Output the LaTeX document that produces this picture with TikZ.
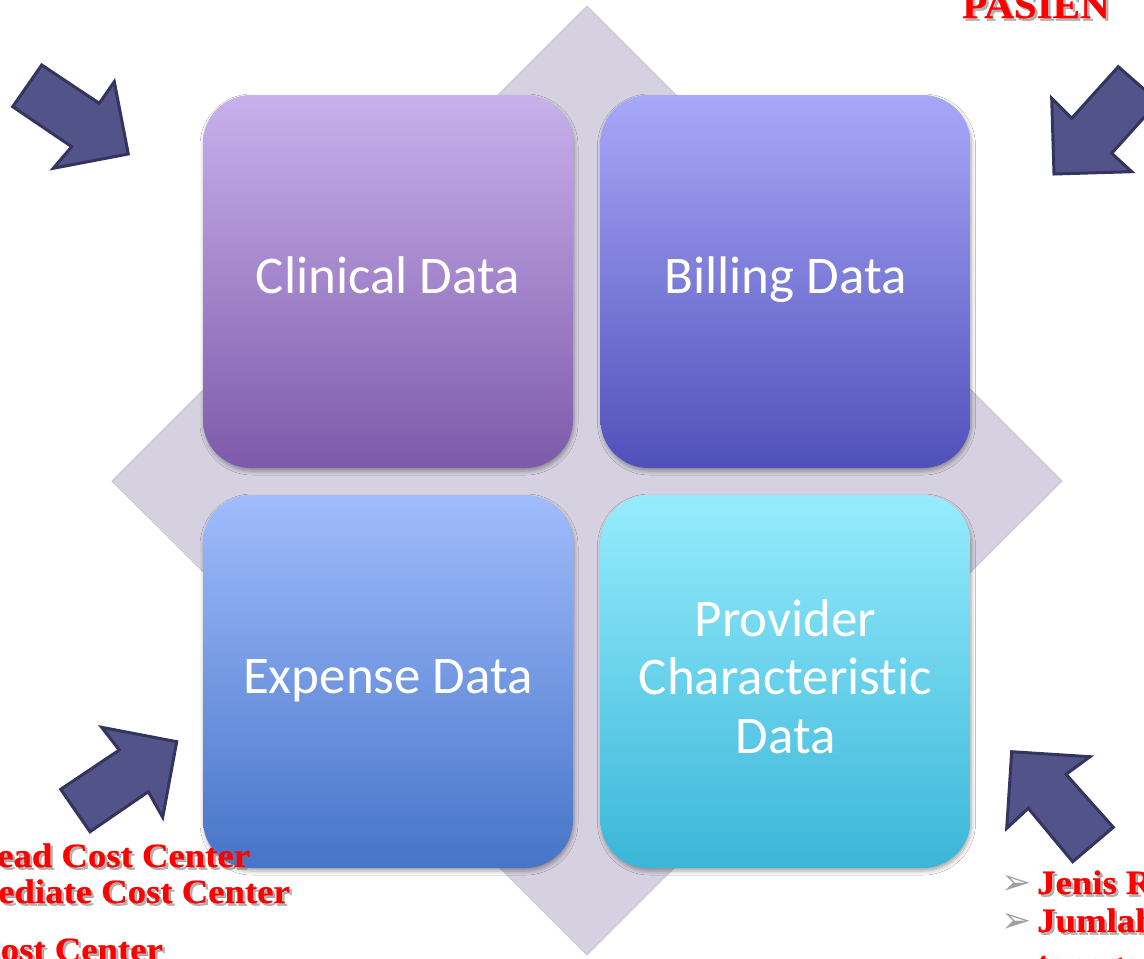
\documentclass[tikz,border=0pt]{standalone}
\usepackage{fontspec}
\setmainfont{Carlito}[Ligatures=NoCommon]
\newfontfamily\redfont[FakeStretch=1.08, FakeBold=0.6]{Liberation Serif Bold}
\newfontfamily\bulletfont{DejaVu Sans}
\usetikzlibrary{shadows.blur}
\definecolor{diamondfill}{RGB}{213,209,224}
\definecolor{diamondline}{RGB}{200,197,214}
\definecolor{arrowfill}{RGB}{82,83,136}
\definecolor{arrowline}{RGB}{52,52,94}
\definecolor{clinTop}{RGB}{200,177,236}
\definecolor{clinBot}{RGB}{126,90,170}
\definecolor{billTop}{RGB}{168,168,249}
\definecolor{billBot}{RGB}{80,80,186}
\definecolor{expTop}{RGB}{160,188,252}
\definecolor{expBot}{RGB}{70,116,200}
\definecolor{provTop}{RGB}{150,236,253}
\definecolor{provBot}{RGB}{58,182,216}
\definecolor{bulletgray}{RGB}{160,160,160}
\tikzset{
  arrowshape/.style={fill=arrowfill, draw=arrowline, line width=3pt, line join=miter},
  databox/.style={rounded corners=48pt, minimum width=370pt, minimum height=373pt,
    inner sep=0pt, text=white, font=\fontsize{53}{58.5}\selectfont,
    text height=36pt, text depth=13pt,
    blur shadow={shadow xshift=1pt, shadow yshift=-3pt, shadow blur radius=4pt, shadow opacity=35}},
  redtext/.style={anchor=base west, inner sep=0pt, text=red, font=\redfont\fontsize{34}{40}\selectfont},
  redshadow/.style={redtext, text=black!55, opacity=0.55},
  bullettext/.style={anchor=base west, inner sep=0pt, text=bulletgray, font=\bulletfont\fontsize{36}{42}\selectfont}
}
\begin{document}
\begin{tikzpicture}[x=1pt, y=-1pt]
\useasboundingbox (0,0) rectangle (1144,959);
\begin{scope}
\clip (0,0) rectangle (1144,959);
\fill[white] (0,0) rectangle (1144,959);
% background diamond
\filldraw[fill=diamondfill, draw=diamondline, line width=0.8pt]
  (587,6) -- (1062,481) -- (587,955) -- (112,481) -- cycle;
% four data boxes
\node[databox, top color=clinTop, bottom color=clinBot] (clin) at (388,281.5) {Clinical Data};
\node[databox, top color=billTop, bottom color=billBot] (bill) at (785.5,281.5) {Billing Data};
\node[databox, top color=expTop, bottom color=expBot] (exp) at (388,681.5) {Expense Data};
\node[databox, top color=provTop, bottom color=provBot] (prov) at (785.5,681.5) {};
\node[text=white, inner sep=0pt, align=center, font=\fontsize{53}{58.5}\selectfont]
  (provtext) at ([yshift=5pt]prov.center) {Provider\\Characteristic\\Data};
% block arrows
\draw[arrowshape] (41.7,65) -- (12.7,106.7) -- (71.7,146.7) -- (53.3,168.3)
  -- (128.3,154) -- (114.3,81.7) -- (99.3,103.3) -- cycle;
\draw[arrowshape] (1118.3,66.7) -- (1071.7,118.3) -- (1051.7,98.3) -- (1054,174)
  -- (1131.7,171.7) -- (1111.7,153.3) -- (1158.3,101.7) -- cycle;
\draw[arrowshape] (101.7,727.3) -- (176.7,741.7) -- (162.7,817.3) -- (148.3,791.7)
  -- (90,831.7) -- (60.7,789.3) -- (119.3,750) -- cycle;
\draw[arrowshape] (1011.7,751.7) -- (1090,756.7) -- (1066,774.3) -- (1113.3,827.3)
  -- (1072.7,861.7) -- (1028.3,808.3) -- (1006.7,828.3) -- cycle;
% red labels (with shadow)
\node[redshadow, font=\redfont\fontsize{38}{44}\selectfont] (pasienS) at (964.5,20.5) {PASIEN};
\node[redtext, font=\redfont\fontsize{38}{44}\selectfont] (pasien) at (962,18) {PASIEN};
\node[redshadow] (l1S) at (-0.5,869.5) {ead Cost Center};
\node[redtext] (l1) at (-3,867) {ead Cost Center};
\node[redshadow] (l2S) at (0.5,905.5) {ediate Cost Center};
\node[redtext] (l2) at (-2,903) {ediate Cost Center};
\node[redshadow] (l3S) at (-23.5,963.5) {Cost Center};
\node[redtext] (l3) at (-26,961) {Cost Center};
\node[bullettext] (b1) at (1001,894) {➢};
\node[bullettext] (b2) at (1001,932) {➢};
\node[redshadow] (r1S) at (1039.5,896.5) {Jenis Ru};
\node[redtext] (r1) at (1037,894) {Jenis Ru};
\node[redshadow] (r2S) at (1039.5,934.5) {Jumlah};
\node[redtext] (r2) at (1037,932) {Jumlah};
\node[redshadow] (r3S) at (1039.5,977.5) {tenaga m};
\node[redtext] (r3) at (1037,975) {tenaga m};
\end{scope}
\end{tikzpicture}
\end{document}
